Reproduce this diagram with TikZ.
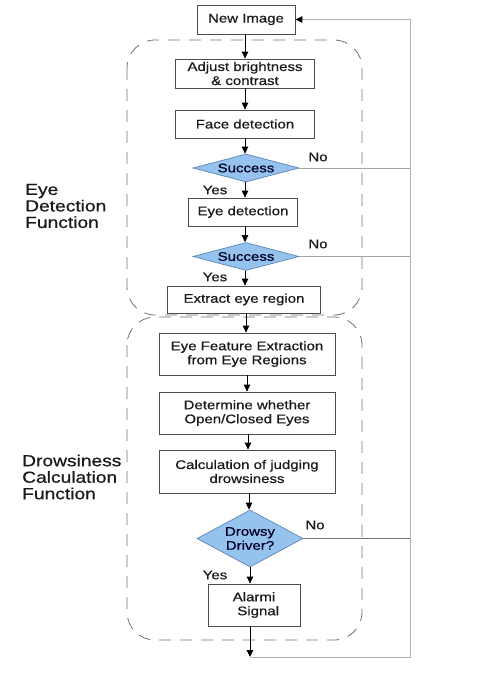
\documentclass[tikz,border=0pt]{standalone}
\usepackage{fontspec}
\setmainfont[FakeStretch=1.2,FakeBold=0.6]{Liberation Sans}
\usetikzlibrary{shapes.geometric,arrows.meta,calc}
\definecolor{dfill}{HTML}{96C2EE}
\definecolor{dline}{HTML}{5A86B8}
\definecolor{txt}{HTML}{1A1A1A}
\begin{document}
\begin{tikzpicture}[x=1pt,y=-1pt,
  box/.style={draw=black!70,line width=0.8pt,fill=white,minimum width=#1,inner sep=0pt,align=center,font=\fontsize{12.5}{14}\selectfont,text=txt},
  dia/.style={diamond,draw=dline,line width=0.7pt,fill=dfill,inner sep=0pt,align=center,font=\fontsize{12.5}{14}\selectfont,text=black!85!blue},
  arr/.style={line width=0.9pt,-{Triangle[length=7pt,width=6.5pt]}},
  region/.style={draw=black!55,line width=0.8pt,dashed,dash pattern=on 12pt off 9pt,rounded corners=28pt},
  lbl/.style={font=\fontsize{12.5}{14}\selectfont,text=txt},
  side/.style={font=\fontsize{16}{16.5}\selectfont,align=left,anchor=west,inner sep=0pt,text=txt},
  noline/.style={draw=black!35,line width=0.8pt}
]
\useasboundingbox (0,0) rectangle (489,679);
\fill[white] (0,0) rectangle (489,679);

% regions
\draw[region] (127,40) rectangle (362,315);
\draw[region] (127,317) rectangle (362,640);

% side labels
\node[side] (lab1) at (25,206) {Eye\\Detection\\Function};
\node[side] (lab2) at (22,477) {Drowsiness\\Calculation\\Function};

% nodes
\node[box=98pt,minimum height=29pt] (newimg) at (246,19.5) {New Image};
\node[box=139pt,minimum height=29pt] (adjust) at (245,73.5) {Adjust brightness\\\& contrast};
\node[box=139pt,minimum height=28pt] (face) at (245,124) {Face detection};
\node[dia,minimum width=106pt,minimum height=28pt,aspect=3.8] (succ1) at (246,168) {Success};
\node[box=109pt,minimum height=28pt] (eyedet) at (243,212) {Eye detection};
\node[dia,minimum width=106pt,minimum height=28pt,aspect=3.8] (succ2) at (246,256.5) {Success};
\node[box=153pt,minimum height=27pt] (extract) at (244,299.5) {Extract eye region};
\node[box=176pt,minimum height=42pt] (feat) at (247,354) {Eye Feature Extraction\\from Eye Regions};
\node[box=176pt,minimum height=42pt] (determ) at (247,413) {Determine whether\\Open/Closed Eyes};
\node[box=176pt,minimum height=43pt] (calc) at (247,471.5) {Calculation of judging\\drowsiness};
\node[dia,minimum width=106pt,minimum height=57pt,aspect=1.86] (drowsy) at (250,538.5) {Drowsy\\Driver?};
\node[box=92pt,minimum height=42pt] (alarm) at (254,605) {Alarmi\\\ \ Signal};

\coordinate (bot) at (250,657);
\coordinate (rc) at (410,657);

% feedback lines
\draw[noline] (succ1.east) -- (succ1.east -| rc);
\draw[noline] (succ2.east) -- (succ2.east -| rc);
\draw[draw=black!55,line width=0.8pt] (drowsy.east) -- (drowsy.east -| rc);
\draw[draw=black!30,line width=1pt,-{Triangle[length=7pt,width=6.5pt,color=black]}] (bot) -- (rc) |- (newimg.east);

% main arrows
\draw[arr] (newimg.south -| 245,0) -- (adjust.north -| 245,0);
\draw[arr] (adjust.south -| 245,0) -- (face.north -| 245,0);
\draw[arr] (face.south -| 245,0) -- (succ1.north -| 245,0);
\draw[arr] (succ1.south -| 245,0) -- (eyedet.north -| 245,0);
\draw[arr] (eyedet.south -| 245,0) -- (succ2.north -| 245,0);
\draw[arr] (succ2.south -| 245,0) -- (extract.north -| 245,0);
\draw[arr] (extract.south -| 246,0) -- (feat.north -| 246,0);
\draw[arr] (feat.south -| 247,0) -- (determ.north -| 247,0);
\draw[arr] (determ.south -| 248,0) -- (calc.north -| 248,0);
\draw[arr] (calc.south -| 249,0) -- (drowsy.north -| 249,0);
\draw[arr] (drowsy.south -| 250,0) -- (alarm.north -| 250,0);
\draw[arr] (alarm.south -| bot) -- (bot);

% labels
\node[lbl] (no1) at (318,157) {No};
\node[lbl] (yes1) at (215,190) {Yes};
\node[lbl] (no2) at (318,244) {No};
\node[lbl] (yes2) at (215,277) {Yes};
\node[lbl] (no3) at (315,525) {No};
\node[lbl] (yes3) at (215,575) {Yes};
\end{tikzpicture}
\end{document}
